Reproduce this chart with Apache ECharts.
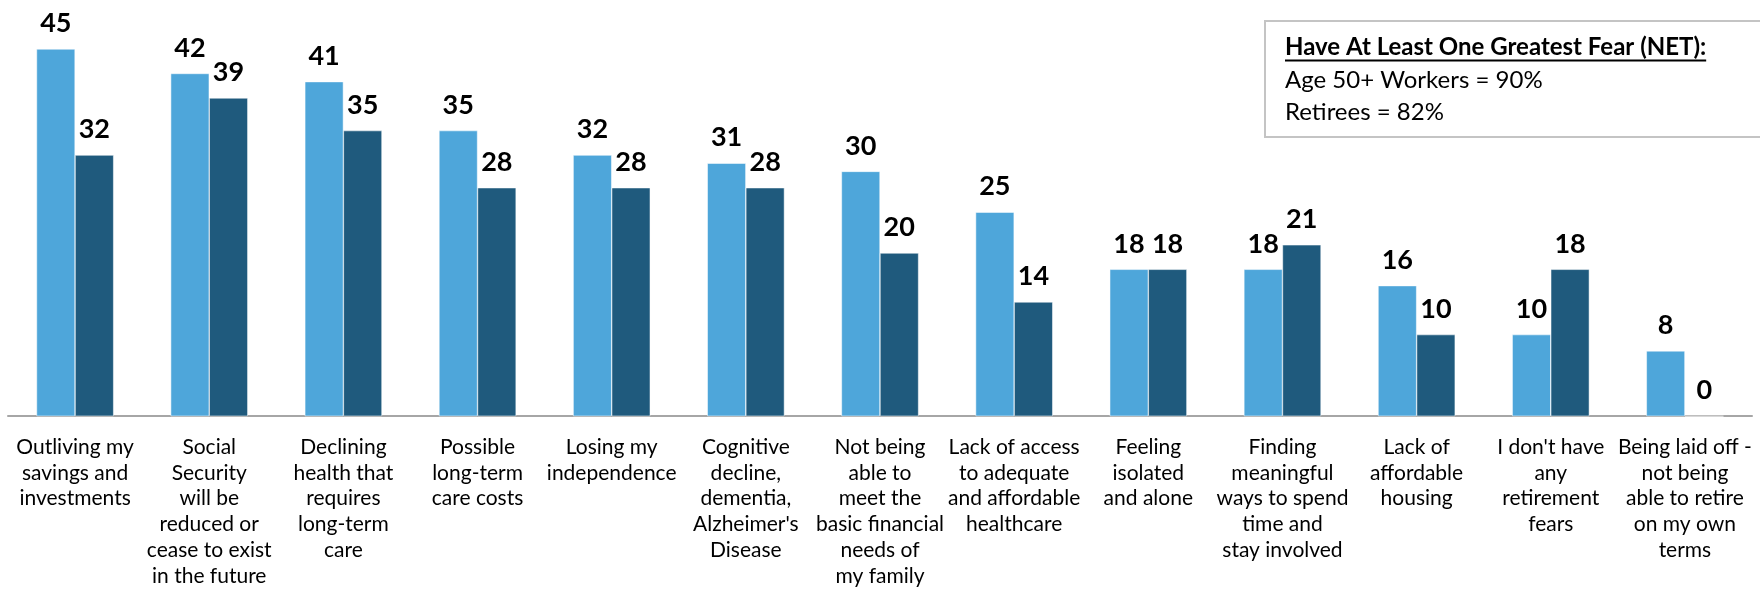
<!DOCTYPE html>
<html>
<head>
<meta charset="utf-8">
<script src="https://cdn.jsdelivr.net/npm/echarts@6/dist/echarts.min.js"></script>
<style>
html,body{margin:0;padding:0;background:#fff;}
#chart{width:1760px;height:589px;}
</style>
</head>
<body>
<div id="chart"></div>
<script>
const categories = [
  "Outliving my\nsavings and\ninvestments",
  "Social\nSecurity\nwill be\nreduced or\ncease to exist\nin the future",
  "Declining\nhealth that\nrequires\nlong-term\ncare",
  "Possible\nlong-term\ncare costs",
  "Losing my\nindependence",
  "Cognitive\ndecline,\ndementia,\nAlzheimer's\nDisease",
  "Not being\nable to\nmeet the\nbasic financial\nneeds of\nmy family",
  "Lack of access\nto adequate\nand affordable\nhealthcare",
  "Feeling\nisolated\nand alone",
  "Finding\nmeaningful\nways to spend\ntime and\nstay involved",
  "Lack of\naffordable\nhousing",
  "I don't have\nany\nretirement\nfears",
  "Being laid off -\nnot being\nable to retire\non my own\nterms"
];
const workers = [45, 42, 41, 35, 32, 31, 30, 25, 18, 18, 16, 10, 8];
const retirees = [32, 39, 35, 28, 28, 28, 20, 14, 18, 21, 10, 18, 0];
const seriesNames = ["Age 50+ Workers", "Retirees"];
const boxTitle = "Have At Least One Greatest Fear (NET):";
const boxLines = ["Age 50+ Workers = 90%", "Retirees = 82%"];

const FONT = "Lato, 'Open Sans', sans-serif";
const titleFont = "bold 24px " + FONT;
const bodyFont = "24px " + FONT;

function textWidth(txt, font) {
  const c = document.createElement('canvas').getContext('2d');
  c.font = font;
  return c.measureText(txt).width;
}

const chart = echarts.init(document.getElementById('chart'), null, {renderer: 'canvas'});

const labelCfg = {
  show: true,
  position: 'top',
  distance: 12,
  color: '#000',
  fontFamily: FONT,
  fontWeight: 'bold',
  fontSize: 27
};

function render() {
  const tw = textWidth(boxTitle, titleFont);
  chart.setOption({
    animation: false,
    grid: {left: 8, right: 8, top: 49, bottom: 167, containLabel: false},
    xAxis: {
      type: 'category',
      data: categories,
      axisLine: {show: true, lineStyle: {color: '#a6a6a6', width: 2}},
      axisTick: {show: false},
      axisLabel: {
        interval: 0,
        margin: 18,
        color: '#000',
        fontFamily: FONT,
        fontSize: 21,
        lineHeight: 25.8,
        align: 'center'
      }
    },
    yAxis: {
      type: 'value',
      min: 0,
      max: 45,
      show: false,
      splitLine: {show: false}
    },
    series: [
      {
        name: seriesNames[0],
        type: 'bar',
        data: workers,
        barGap: '0%',
        barCategoryGap: '42.5%',
        itemStyle: {color: '#4ea6da', borderColor: '#ffffff', borderWidth: 0.5},
        label: labelCfg
      },
      {
        name: seriesNames[1],
        type: 'bar',
        data: retirees,
        barGap: '0%',
        barCategoryGap: '42.5%',
        itemStyle: {color: '#1f5a7d', borderColor: '#ffffff', borderWidth: 0.5},
        label: labelCfg
      }
    ],
    graphic: [
      {
        type: 'rect',
        shape: {x: 1265, y: 21, width: 520, height: 116},
        style: {fill: '#fff', stroke: '#c4c4c4', lineWidth: 2},
        z: 10
      },
      {
        type: 'text',
        x: 1285, y: 35,
        style: {text: boxTitle, font: titleFont, fill: '#000', verticalAlign: 'top'},
        z: 11
      },
      {
        type: 'line',
        shape: {x1: 1285, y1: 60.5, x2: 1285 + tw, y2: 60.5},
        style: {stroke: '#000', lineWidth: 2},
        z: 11
      },
      {
        type: 'text',
        x: 1285, y: 68,
        style: {text: boxLines[0], font: bodyFont, fill: '#000', verticalAlign: 'top'},
        z: 11
      },
      {
        type: 'text',
        x: 1285, y: 100,
        style: {text: boxLines[1], font: bodyFont, fill: '#000', verticalAlign: 'top'},
        z: 11
      }
    ]
  });
}
render();
if (document.fonts && document.fonts.ready) {
  document.fonts.load(titleFont).then(render).catch(function(){});
}
</script>
</body>
</html>
